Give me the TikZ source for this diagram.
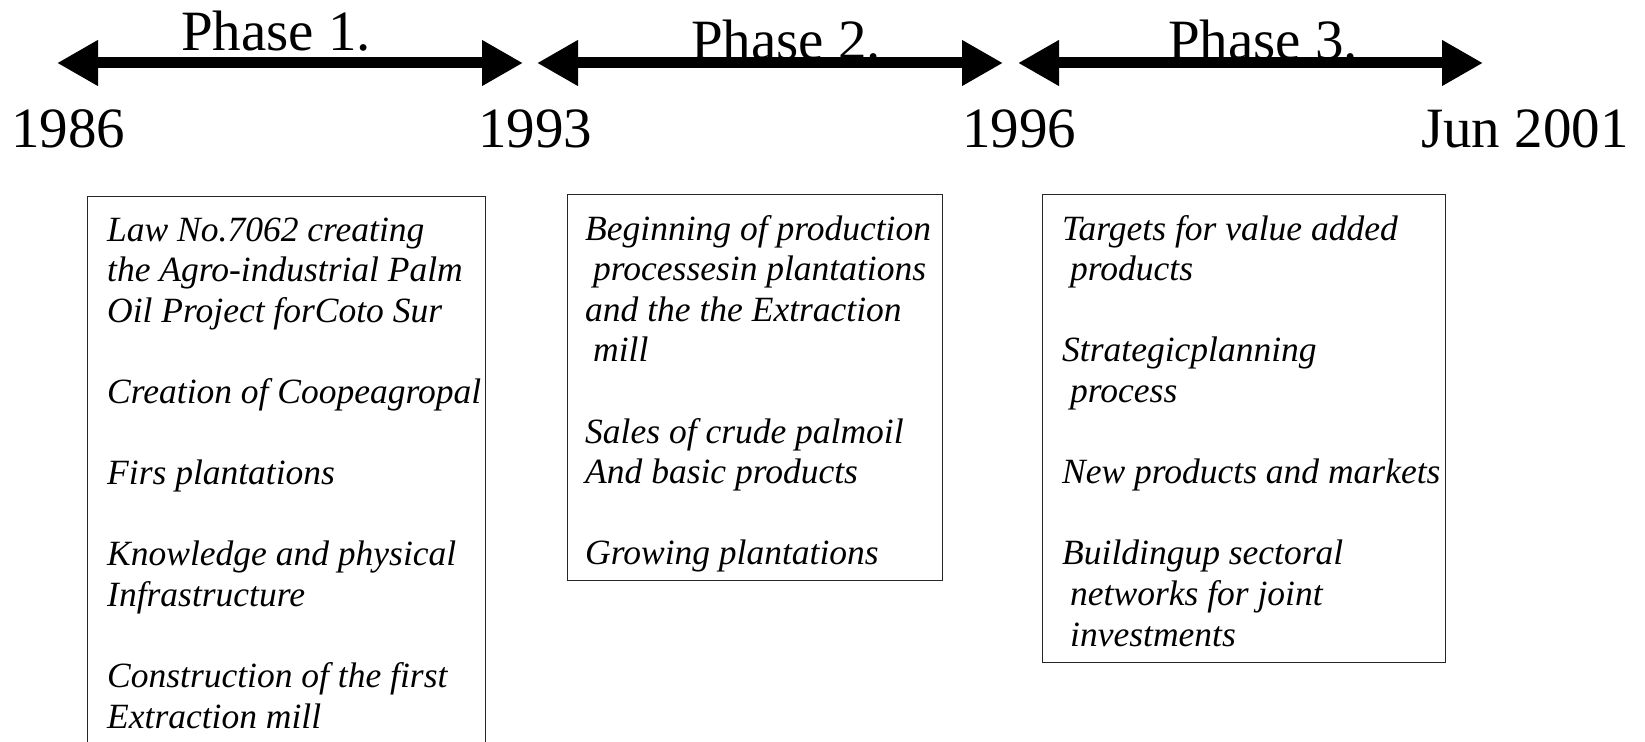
\documentclass[tikz,border=0pt]{standalone}
\usepackage{fontspec}
\setmainfont{Liberation Serif}[ItalicFont={Liberation Serif Italic}]
\usetikzlibrary{arrows.meta}
\tikzset{
  x=1pt, y=-1pt,
  phasearrow/.style={line width=11pt, {Triangle[length=41pt,width=43pt]}-{Triangle[length=41pt,width=43pt]}},
  big/.style={font=\fontsize{57}{60}\selectfont, inner sep=0pt},
  box/.style={draw=black!85, line width=1.3pt, inner sep=0pt, anchor=north west},
  txt/.style={inner sep=0pt, anchor=base west, font=\fontsize{35.5}{40.6}\selectfont\itshape}
}
\begin{document}
\begin{tikzpicture}
\useasboundingbox (0,0) rectangle (1645,741);
\clip (0,0) rectangle (1645,741);
% arrows
\coordinate (a1l) at (57,63); \coordinate (a1r) at (523,63);
\coordinate (a2l) at (537,63); \coordinate (a2r) at (1003,63);
\coordinate (a3l) at (1018,63); \coordinate (a3r) at (1483,63);
\draw[phasearrow] (a1l) -- (a1r);
\draw[phasearrow] (a2l) -- (a2r);
\draw[phasearrow] (a3l) -- (a3r);
% phase labels
\node[big, anchor=base] (p1) at (276,51) {Phase 1.};
\node[big, anchor=base] (p2) at (786,60) {Phase 2.};
\node[big, anchor=base] (p3) at (1263,60) {Phase 3.};
% years
\node[big, anchor=base west] (y1) at (11,147) {1986};
\node[big, anchor=base west] (y2) at (478,147) {1993};
\node[big, anchor=base west] (y3) at (962,147) {1996};
\node[big, anchor=base west] (y4) at (1421,147) {Jun 2001};
% boxes
\node[box, minimum width=398pt, minimum height=580pt] (b1) at (87,196) {};
\node[box, minimum width=375pt, minimum height=386pt] (b2) at (567,194) {};
\node[box, minimum width=403pt, minimum height=468pt] (b3) at (1042,194) {};
% box texts
\node[txt] (t1) at (107,241) {\begin{tabular}[t]{@{}l@{}}
Law No.7062 creating\\
the Agro-industrial Palm\\
Oil Project forCoto Sur\\
\\
Creation of Coopeagropal\\
\\
Firs plantations\\
\\
Knowledge and physical\\
Infrastructure\\
\\
Construction of the first\\
Extraction mill
\end{tabular}};
\node[txt] (t2) at (585,240) {\begin{tabular}[t]{@{}l@{}}
Beginning of production\\
\hspace{8pt}processesin plantations\\
and the the Extraction\\
\hspace{8pt}mill\\
\\
Sales of crude palmoil\\
And basic products\\
\\
Growing plantations
\end{tabular}};
\node[txt] (t3) at (1062,240) {\begin{tabular}[t]{@{}l@{}}
Targets for value added\\
\hspace{8pt}products\\
\\
Strategicplanning\\
\hspace{8pt}process\\
\\
New products and markets\\
\\
Buildingup sectoral\\
\hspace{8pt}networks for joint\\
\hspace{8pt}investments
\end{tabular}};
\end{tikzpicture}
\end{document}
